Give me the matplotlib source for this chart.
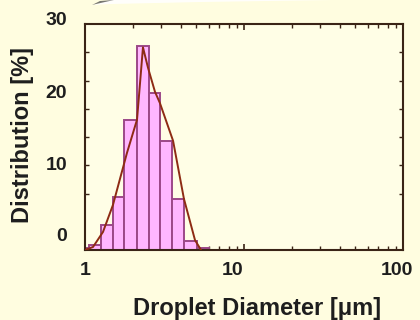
import numpy as np
import matplotlib
matplotlib.use('Agg')
import matplotlib.pyplot as plt
from matplotlib.patches import Polygon
from matplotlib.ticker import FixedLocator, LogLocator, NullFormatter
import matplotlib.transforms as mtransforms

# ---- data ----
bin_edges = [0.9, 1.067, 1.26, 1.50, 1.76, 2.12, 2.51, 2.96, 3.55, 4.22, 5.04, 5.99]
distribution = [0.3, 0.66, 3.3, 7.1, 17.3, 27.1, 20.9, 14.5, 6.8, 1.2, 0.3]
curve_diameter = [1.0, 1.123, 1.298, 1.50, 1.837, 2.124, 2.315, 2.49, 2.755, 2.96, 3.58, 4.19, 4.92, 5.37]
curve_distribution = [0, 0.4, 2.4, 6.0, 12.9, 17.3, 26.9, 24.2, 21.0, 19.5, 14.5, 6.8, 1.3, 0]
xtick_values = [1, 10, 100]
xtick_labels = ['1', '10', '100']
ytick_values = [0, 10, 20, 30]
ytick_labels = ['0', '10', '20', '30']
yminor_values = [7.5, 11.25, 15, 18.75, 22.5, 26.25]

BG = '#FFFDE0'
AX_BG = '#FFFEE6'
BAR_FACE = '#FFB6FF'
BAR_EDGE = '#9C4888'
LINE = '#8E2B14'
SPINE = '#3A2416'
TEXT = '#1E1E1E'

plt.rcParams['font.family'] = ['Liberation Sans', 'DejaVu Sans']
plt.rcParams['font.weight'] = 'bold'

W, H = 420, 320
fig = plt.figure(figsize=(W / 100, H / 100), dpi=100, facecolor=BG)
ax = fig.add_axes([85 / W, 70 / H, 318 / W, 226 / H], facecolor=AX_BG)

edges = np.array(bin_edges)
ax.bar(edges[:-1], distribution, width=np.diff(edges), align='edge',
       color=BAR_FACE, edgecolor=BAR_EDGE, linewidth=1.4, zorder=2)
ax.plot(curve_diameter, curve_distribution, color=LINE, linewidth=1.4, zorder=3)

ax.set_xscale('log')
ax.set_xlim(1, 100)
ax.set_ylim(0, 30)

for s in ax.spines.values():
    s.set_color(SPINE)
    s.set_linewidth(1.5)

ax.xaxis.set_major_locator(FixedLocator(xtick_values))
ax.xaxis.set_minor_locator(LogLocator(base=10, subs=np.arange(2, 10)))
ax.xaxis.set_minor_formatter(NullFormatter())
ax.yaxis.set_major_locator(FixedLocator(ytick_values))
ax.yaxis.set_minor_locator(FixedLocator(yminor_values))
ax.tick_params(which='both', direction='in', top=True, right=True,
               color=SPINE, labelbottom=False, labelleft=False)
ax.tick_params(axis='x', which='major', length=4, width=1.2)
ax.tick_params(axis='x', which='minor', length=3, width=1.0)
ax.tick_params(axis='y', which='major', length=0)
ax.tick_params(axis='y', which='minor', length=3, width=1.0)

# tick labels placed where the reference shows them
ydy = [13.5, 9.2, 5.8, 3.5]
for v, lab, dy in zip(ytick_values, ytick_labels, ydy):
    tr = ax.get_yaxis_transform() + mtransforms.ScaledTranslation(0, dy / 100, fig.dpi_scale_trans)
    ax.text(-0.0566, v, lab, transform=tr, ha='right', va='center',
            fontsize=14, fontweight='bold', color=TEXT, clip_on=False)
xdx = [0, -11, -6]
for v, lab, dx in zip(xtick_values, xtick_labels, xdx):
    tr = ax.get_xaxis_transform() + mtransforms.ScaledTranslation(dx / 100, 0, fig.dpi_scale_trans)
    ax.text(v, -0.052, lab, transform=tr, ha='center', va='top',
            fontsize=14, fontweight='bold', color=TEXT, clip_on=False)

ax.set_xlabel('Droplet Diameter [\u03bcm]', fontsize=17, fontweight='bold', color=TEXT)
ax.xaxis.set_label_coords(0.541, -0.21)
ax.xaxis.label.set_va('top')
ax.set_ylabel('Distribution [%]', fontsize=17, fontweight='bold', color=TEXT)
ax.yaxis.set_label_coords(-0.16, 0.51)

# faint shape cut off at the top edge of the picture
def px(pts):
    return [(x / W, 1 - y / H) for x, y in pts]
fig.patches.append(Polygon(px([(93, 5), (110, 0), (333, 0), (200, 2), (110, 4)]),
                           closed=True, transform=fig.transFigure,
                           facecolor='#FFFFFF', edgecolor='none', alpha=0.9))
fig.patches.append(Polygon(px([(92, 5), (100, 1), (114, 0), (96, 4)]),
                           closed=True, transform=fig.transFigure,
                           facecolor='#555555', edgecolor='none', alpha=0.8))

fig.savefig('out.png', dpi=100, facecolor=BG)
